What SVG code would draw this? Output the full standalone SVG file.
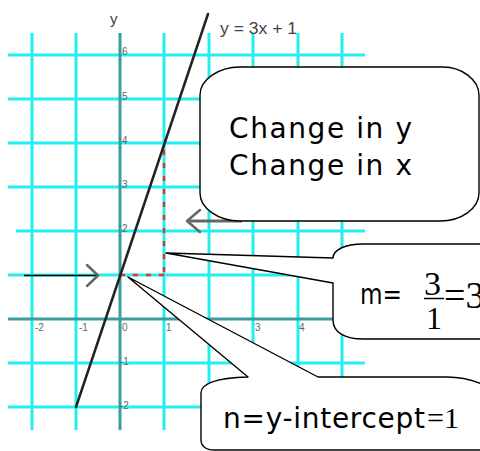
<svg xmlns="http://www.w3.org/2000/svg" width="480" height="451" viewBox="0 0 480 451">
<style>
.grid{stroke:#22f0f0;stroke-width:3;fill:none}
.axis{stroke:#3a9e9e;stroke-width:3;fill:none}
.tick{font-family:"Liberation Sans",Arial,sans-serif;font-size:10px;fill:#666}
.callout{fill:#fff;stroke:#000;stroke-width:1.4;stroke-linejoin:round}
.big{font-family:"DejaVu Sans","Liberation Sans",sans-serif;font-size:28px;fill:#000}
.serif{font-family:"Liberation Serif","Times New Roman",serif;fill:#000}
.chev{fill:none;stroke:#666;stroke-width:2.5;stroke-linecap:round;stroke-linejoin:round}
</style>
<rect width="480" height="451" fill="#fff"/>
<g id="grid">
<path class="grid" d="M32,33V430M76,33V430M164,33V430M209,33V430M253,33V430M298,33V430M342,33V430"/>
<path class="grid" d="M8,55H365M8,99H365M8,143H365M8,187H365M16,231H365M8,275H365M8,363H365M8,407H365"/>
</g>
<g id="axes">
<path class="axis" d="M120,33V430M8,319H365"/>
<text x="110" y="24" font-family="Liberation Sans,sans-serif" font-size="15" fill="#444">y</text>
<g class="tick">
<text x="122" y="55">6</text><text x="122" y="100">5</text><text x="122" y="144">4</text><text x="122" y="188">3</text><text x="122" y="232">2</text>
<text x="120" y="365">-1</text><text x="120" y="409">-2</text>
<text x="35" y="331">-2</text><text x="79" y="331">-1</text><text x="122" y="331">0</text><text x="166" y="331">1</text><text x="211" y="331">2</text><text x="255" y="331">3</text><text x="299" y="331">4</text>
</g>
</g>
<g id="connectors">
<path d="M164,150V275M120,275H164" fill="none" stroke="#d83a3a" stroke-width="2.5" stroke-dasharray="5,8"/>
<line x1="76" y1="407" x2="208" y2="14" stroke="#222" stroke-width="2.5" stroke-linecap="round"/>
<line x1="24" y1="275.5" x2="98" y2="275.5" stroke="#000" stroke-width="1.5"/>
<path class="chev" d="M87,265L98,275.5L87,286"/>
<line x1="188" y1="221" x2="242" y2="221" stroke="#666" stroke-width="3"/>
<path class="chev" d="M200,210L187,221L200,232"/>
</g>
<text x="220" y="34" font-family="Liberation Sans,Arial,sans-serif" font-size="16" fill="#444" textLength="77" lengthAdjust="spacingAndGlyphs">y = 3x + 1</text>
<g id="callout-change">
<path class="callout" d="M240,67H443C462,67 479,80 479,95V193C479,208 462,221 440,221H240C218,221 200,208 200,193V95C200,80 218,67 240,67Z"/>
<text class="big" x="229" y="138" textLength="183" lengthAdjust="spacing">Change in y</text>
<text class="big" x="229" y="175" textLength="183" lengthAdjust="spacing">Change in x</text>
</g>
<g id="callout-slope">
<path class="callout" d="M363,244H500V339H363C346,339 333,333 333,320V283L166,253L333,258C333,250 345,244 363,244Z"/>
<text class="big" x="360" y="304" textLength="42" lengthAdjust="spacingAndGlyphs">m=</text>
<text class="serif" x="424" y="295" font-size="34">3</text>
<line x1="424" y1="298.5" x2="444" y2="298.5" stroke="#000" stroke-width="1.5"/>
<text class="serif" x="426" y="329" font-size="32">1</text>
<text class="serif" x="444" y="308" font-size="38">=3</text>
</g>
<g id="callout-intercept">
<path class="callout" d="M318,377H447C470,377 500,388 500,400V450H214C206,450 201,446 201,440V393C201,384 214,378 248,377L128,277Z"/>
<text class="big" x="223" y="428" textLength="202" lengthAdjust="spacing">n=y-intercept</text>
<text class="serif" x="427" y="428" font-size="30">=1</text>
</g>
</svg>
